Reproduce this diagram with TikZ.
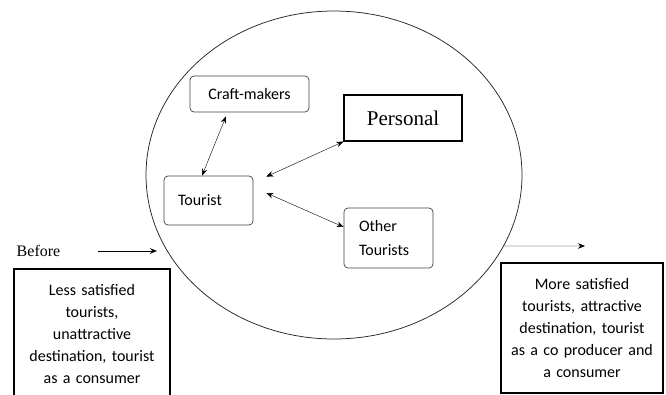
\documentclass[tikz,border=0pt]{standalone}
\usepackage{fontspec}
\setmainfont{Liberation Serif}
\newfontfamily\calibri{Carlito}
\usetikzlibrary{arrows.meta, shapes.geometric}

\begin{document}
\begin{tikzpicture}[x=1pt, y=-1pt, >={Stealth[length=7pt,width=5.5pt]},
  actor/.style={draw=black!75, rounded corners=4pt, line width=0.7pt, inner sep=0pt, font=\calibri\fontsize{16}{24}\selectfont},
  stage/.style={draw, line width=1.1pt, inner sep=0pt, align=center, font=\calibri\fontsize{16}{22}\selectfont}]
\useasboundingbox (0,0) rectangle (666,394);
\node[draw=black!85, ellipse, line width=0.75pt, inner sep=0pt, minimum width=376pt, minimum height=328pt] (field) at (334,175) {};
\node[actor, minimum width=119pt, minimum height=36pt] (craft) at (249.5,94) {Craft-makers};
\node[draw, line width=1.2pt, inner sep=0pt, minimum width=118pt, minimum height=46pt, font=\fontsize{21}{24}\selectfont] (pers) at (403,118) {Personal};
\node[actor, minimum width=89pt, minimum height=49pt, text width=61pt, align=left] (tour) at (208.5,200.5) {Tourist};
\node[actor, minimum width=89pt, minimum height=60pt, text width=59pt, align=left] (other) at (388.5,238) {Other\\Tourists};
\node[inner sep=0pt, font=\fontsize{16}{18}\selectfont] (before) at (38.5,251) {Before};
\node[stage, minimum width=156pt, minimum height=129pt, text width=150pt] (less) at (92,333.5) {Less satisfied\\tourists,\\unattractive\\destination, tourist\\as a consumer};
\node[stage, minimum width=162pt, minimum height=130pt, text width=156pt] (more) at (582,328) {More satisfied\\tourists, attractive\\destination, tourist\\as a co producer and\\a consumer};
\coordinate (entry) at (157,251);
\path (field.center) ++(25.65:188 and 164) coordinate (rim);
\coordinate (exit) at (585,246);
\draw[<->] ([xshift=-23.5pt,yshift=-4pt]craft.south) -- ([xshift=-6.5pt]tour.north);
\draw[<->] ([shift={(13,1)}]tour.north east) -- (pers.south west);
\draw[<->] ([shift={(13,-7.5)}]tour.east) -- ([shift={(0,-11)}]other.west);
\draw[->] ([xshift=38pt]before.east) -- (entry);
\draw[->] (rim) -- (exit);
\end{tikzpicture}
\end{document}
